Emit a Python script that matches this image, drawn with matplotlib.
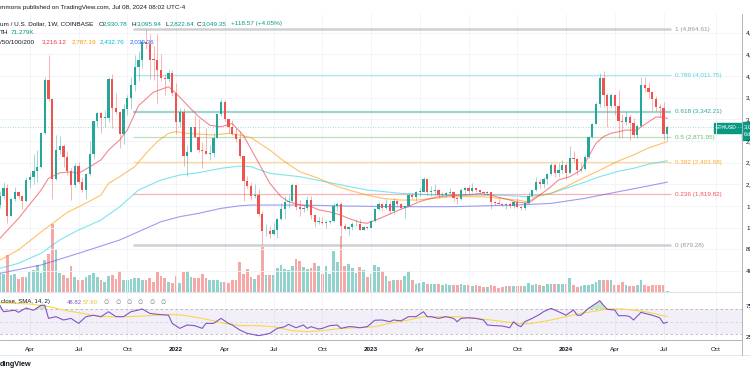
import numpy as np
import pandas as pd
import matplotlib
matplotlib.use("Agg")
import matplotlib.pyplot as plt
from matplotlib.patches import Rectangle

plt.rcParams["font.family"] = ["Liberation Sans", "DejaVu Sans"]

# ---- weekly ETH/USD candles (Coinbase), Mondays 2021-02-08 .. 2024-07-08 ----
first_open = 1610
closes = [
    # 2021
    1780, 1935, 1417, 1723, 1855, 1786, 1691, 2080, 2140, 2240, 2315, 2945,
    3920, 3580, 2100, 2630, 2710, 2510, 2250, 1980, 2330, 2040, 1900, 2190,
    2560, 3160, 3310, 3225, 3230, 3940, 3410, 3330, 2920, 3390, 3590, 3840,
    4170, 4290, 4620, 4580, 4300, 4290, 4110, 3960, 3940, 4050, 3680,
    # 2022
    3150, 3330, 2530, 2600, 3060, 2880, 2630, 2620, 2560, 2580, 2860, 3290,
    3520, 3210, 3060, 2930, 2830, 2520, 2060, 1970, 1790, 1800, 1450, 1130,
    1140, 1075, 1160, 1350, 1550, 1680, 1700, 1980, 1580, 1550, 1570, 1710,
    1440, 1310, 1310, 1290, 1300, 1320, 1590, 1630, 1230, 1170, 1205, 1260,
    1275, 1165, 1220, 1200,
    # 2023
    1320, 1550, 1630, 1570, 1630, 1510, 1700, 1640, 1560, 1590, 1800, 1760,
    1860, 1860, 2090, 1860, 1870, 1900, 1800, 1810, 1830, 1850, 1750, 1720,
    1900, 1940, 1870, 1930, 1890, 1860, 1840, 1850, 1680, 1650, 1640, 1615,
    1640, 1590, 1670, 1580, 1560, 1660, 1780, 1890, 2050, 2010, 2090, 2190,
    2350, 2200, 2270, 2350,
    # 2024
    2210, 2480, 2460, 2260, 2290, 2500, 2880, 3110, 3490, 3960, 3650, 3450,
    3640, 3450, 3160, 3150, 3250, 3130, 2910, 3070, 3830, 3780, 3700, 3570,
    3420, 3410, 2930.78, 3049.35,
]
highs = [
    1875, 2040, 2000, 1740, 1945, 1880, 1810, 2140, 2200, 2550, 2640, 2960,
    3970, 4380, 3600, 2900, 2890, 2740, 2620, 2300, 2400, 2410, 2140, 2200,
    2800, 3170, 3330, 3340, 3370, 3970, 4030, 3680, 3360, 3480, 3640, 3970,
    4380, 4460, 4670, 4870, 4770, 4560, 4780, 4400, 4040, 4120, 4100,
    3860, 3410, 3410, 2730, 3060, 3280, 3200, 2780, 3040, 2730, 2950, 3300,
    3580, 3550, 3210, 3180, 3030, 2990, 2520, 2160, 2050, 2000, 1920, 1500,
    1260, 1230, 1280, 1380, 1660, 1780, 1800, 2020, 1990, 1710, 1620, 1790,
    1790, 1460, 1390, 1390, 1340, 1340, 1660, 1680, 1680, 1290, 1230, 1300,
    1350, 1350, 1230, 1230,
    1340, 1560, 1670, 1660, 1720, 1690, 1740, 1710, 1660, 1600, 1840, 1840,
    1870, 1940, 2140, 2100, 1960, 2000, 1920, 1850, 1860, 1930, 1880, 1770,
    1930, 1950, 1980, 2030, 1930, 1890, 1870, 1870, 1860, 1690, 1740, 1660,
    1660, 1680, 1690, 1750, 1600, 1690, 1860, 1900, 2140, 2100, 2130, 2200,
    2400, 2400, 2400, 2440,
    2400, 2715, 2610, 2480, 2390, 2540, 2890, 3130, 3520, 4060, 4090, 3680,
    3680, 3660, 3730, 3290, 3350, 3290, 3220, 3120, 3980, 3980, 3890, 3720,
    3620, 3490, 3520, 3095.94,
]
lows = [
    1560, 1730, 1290, 1410, 1700, 1720, 1550, 1680, 1930, 2000, 2050, 2300,
    2930, 3530, 1730, 2080, 2560, 2310, 2170, 1710, 1950, 2020, 1860, 1720,
    2150, 2460, 3050, 2950, 3050, 3150, 3040, 3290, 2660, 2740, 3280, 3390,
    3720, 3900, 4140, 4500, 3950, 3920, 3500, 3900, 3640, 3880, 3620,
    2930, 3060, 2330, 2160, 2590, 2850, 2600, 2300, 2550, 2450, 2500, 2850,
    3260, 3160, 2950, 2900, 2780, 2490, 1700, 1940, 1710, 1750, 1420, 880,
    1050, 1000, 1070, 1010, 1340, 1360, 1560, 1670, 1530, 1420, 1480, 1520,
    1350, 1220, 1270, 1260, 1190, 1270, 1310, 1510, 1070, 1150, 1070, 1160,
    1230, 1150, 1160, 1180,
    1190, 1310, 1520, 1500, 1540, 1460, 1460, 1580, 1540, 1370, 1590, 1720,
    1700, 1790, 1850, 1810, 1790, 1800, 1740, 1780, 1770, 1820, 1700, 1630,
    1710, 1800, 1820, 1850, 1850, 1840, 1820, 1820, 1550, 1610, 1630, 1600,
    1550, 1570, 1560, 1570, 1520, 1530, 1650, 1760, 1870, 1930, 1930, 2010,
    2170, 2140, 2130, 2210,
    2100, 2200, 2420, 2170, 2230, 2260, 2480, 2860, 3110, 3420, 3420, 3060,
    3400, 3280, 2850, 2860, 3100, 2810, 2870, 2860, 3050, 3700, 3600, 3360,
    3350, 3240, 2810, 2822.64,
]
volume_k = [
    1235, 1170, 2405, 1105, 1170, 845, 975, 975, 1300, 1430, 1755, 1235, 2080, 2470,
    4420, 2730, 1235, 1105, 910, 1690, 975, 780, 780, 975, 1105, 1235, 975, 780,
    650, 1040, 1105, 845, 1365, 780, 780, 845, 910, 910, 780, 780, 910, 650, 1300,
    1040, 910, 650, 585, 1040, 585, 1300, 1365, 975, 910, 910, 1170, 910, 780, 780,
    780, 650, 650, 585, 780, 780, 1950, 1170, 1495,
    975, 845, 1105, 2925, 1105, 1105, 1105, 1560, 1755, 1495, 1430, 1690, 2145,
    2015, 1625, 1495, 1560, 1885, 1690, 1170, 1690, 1170, 2665, 1950, 3640, 1690,
    1820, 1560, 1235, 1625, 1430, 975, 1170, 1755, 1625, 1365, 1040, 715, 780, 780,
    780, 1040, 1365, 780, 520, 585, 650, 520, 520, 520, 520, 455, 520, 455, 455,
    455, 520, 455, 455, 390, 455, 390, 325, 325, 455, 390,
    260, 325, 390, 390, 390, 390, 390, 390, 585, 455, 520, 455, 390, 520, 520, 520,
    520, 520,
    520, 910, 455, 325, 390, 455, 455, 520, 650, 780, 780, 780, 780, 455, 455, 650,
    455, 390, 390, 455, 780, 455, 390, 455, 455, 455, 455, 71.279,
]

# moving averages: (week offset from 2024-01-01, value)
ma20_pts = [(-151, 1000), (-146, 1370), (-140, 1890), (-138, 2110), (-135, 2210),
            (-132, 2230), (-130, 2200), (-127, 2320), (-124, 2450), (-122, 2630),
            (-119, 2820), (-117, 3000), (-114, 3450), (-110, 3700), (-106, 3800),
            (-104, 3680), (-101, 3460), (-98, 3250), (-95, 3090), (-92, 3060),
            (-89, 3120), (-86, 2900), (-84, 2650), (-82, 2400), (-79, 2020),
            (-76, 1770), (-74, 1680), (-71, 1620), (-68, 1590), (-66, 1530),
            (-63, 1490), (-60, 1430), (-58, 1370), (-55, 1300), (-53, 1280),
            (-50, 1360), (-47, 1450), (-44, 1540), (-42, 1590), (-39, 1680),
            (-36, 1740), (-34, 1770), (-31, 1790), (-28, 1800), (-26, 1805),
            (-23, 1830), (-20, 1800), (-18, 1760), (-15, 1710), (-13, 1670),
            (-10, 1650), (-7, 1800), (-4, 1955), (-2, 2080), (1, 2140), (4, 2260),
            (6, 2510), (8, 2755), (10, 2880), (12, 2940), (14, 2970), (16, 3000),
            (19, 3000), (20, 3060), (22, 3150), (24, 3240), (26, 3235), (27, 3216)]
ma50_pts = [(-151, 600), (-146, 790), (-140, 1120), (-133, 1480), (-129, 1617),
            (-124, 1800), (-122, 2016), (-119, 2140), (-115, 2324), (-112, 2570),
            (-109, 2786), (-106, 2940), (-104, 2970), (-101, 2940), (-98, 2927),
            (-94, 2909), (-90, 2940), (-87, 2909), (-84, 2860), (-79, 2632),
            (-75, 2416), (-71, 2232), (-66, 2110), (-62, 1986), (-58, 1894),
            (-53, 1801), (-49, 1740), (-44, 1709), (-40, 1709), (-35, 1740),
            (-31, 1770), (-22, 1770), (-13, 1709), (-10, 1678), (-8, 1770),
            (-4, 1832), (0, 1955), (5, 2130), (9, 2260), (14, 2430), (18, 2540),
            (22, 2670), (27, 2787)]
ma100_pts = [(-151, 450), (-146, 542), (-140, 726), (-135, 972), (-130, 1156),
             (-124, 1340), (-119, 1586), (-114, 1894), (-108, 2078), (-103, 2170),
             (-98, 2213), (-92, 2294), (-87, 2336), (-84, 2324), (-79, 2202),
             (-71, 2140), (-62, 2016), (-53, 1894), (-44, 1832), (-35, 1801),
             (-31, 1801), (-18, 1801), (-10, 1770), (-4, 1832), (0, 1925),
             (5, 2040), (9, 2140), (14, 2240), (18, 2294), (22, 2370), (27, 2433)]
ma200_pts = [(-151, 357), (-140, 510), (-130, 726), (-119, 972), (-108, 1309),
             (-103, 1402), (-98, 1463), (-92, 1555), (-87, 1603), (-84, 1617),
             (-71, 1617), (-58, 1598), (-44, 1586), (-31, 1586), (-13, 1617),
             (-4, 1647), (5, 1740), (14, 1863), (20, 1943), (27, 2039)]

rsi_pts = [(-151, 76), (-150, 65.7), (-147, 68), (-146, 64.7), (-144, 71.6),
           (-142, 68), (-140, 76), (-139, 76), (-138, 55), (-136, 57.7),
           (-134, 52.4), (-132, 55), (-130, 47), (-128, 57.7), (-126, 60),
           (-124, 57.7), (-122, 65.7), (-120, 57.7), (-118, 57.7), (-116, 65.7),
           (-114, 68.4), (-113, 70), (-111, 63), (-109, 61.5), (-106, 60),
           (-105, 47), (-103, 39), (-101, 44.4), (-99, 43.4), (-97, 39),
           (-96, 47), (-94, 47), (-92, 55), (-90, 47), (-89, 44.4), (-87, 36.4),
           (-85, 31), (-82, 27.4), (-81, 28.4), (-79, 31), (-77, 39), (-75, 41.7),
           (-74, 45.5), (-72, 40), (-70, 44.4), (-69, 39), (-68, 41.7), (-66, 38),
           (-65, 39), (-63, 43.4), (-61, 44.4), (-60, 39), (-58, 41.7), (-57, 41.7),
           (-55, 40), (-53, 41.7), (-51, 52), (-49, 52.4), (-47, 49.7), (-46, 52.4),
           (-44, 51), (-42, 57.7), (-40, 57.7), (-38, 65.7), (-37, 57.7),
           (-36, 57.7), (-34, 55), (-32, 57.7), (-30, 55), (-29, 49.7), (-28, 55),
           (-26, 55.9), (-24, 55), (-22, 52.4), (-21, 44.4), (-19, 43.4),
           (-17, 42.8), (-15, 40), (-14, 49.7), (-13, 44.4), (-12, 41.7),
           (-11, 49.7), (-9, 55), (-7, 61.5), (-6, 65.7), (-4, 71), (-2, 65.7),
           (-1, 63), (0, 60), (2, 68.4), (3, 60), (4, 60), (6, 71), (8, 79),
           (9, 83.3), (10, 76), (11, 69.5), (13, 68.4), (14, 59.3), (16, 59.3),
           (17, 57.7), (18, 52.4), (20, 64.7), (21, 63), (23, 60), (25, 56),
           (26, 47), (27, 48.82)]
rsi_sma_pts = [(-151, 80), (-143, 78), (-138, 74), (-134, 68.4), (-129, 63),
               (-124, 57.7), (-117, 57.7), (-111, 59.3), (-106, 61.5), (-102, 60),
               (-97, 55), (-91, 47), (-87, 43.4), (-82, 43.4), (-78, 41.7),
               (-73, 35.3), (-69, 33.7), (-65, 35.3), (-60, 39), (-56, 40),
               (-51, 41.7), (-47, 47), (-42, 52.4), (-38, 57.7), (-33, 57.7),
               (-29, 57.7), (-24, 55), (-20, 52.4), (-15, 48.6), (-12, 46),
               (-9, 47), (-4, 52.4), (0, 57.7), (4, 63), (8, 66.8), (11, 70),
               (15, 70), (18, 68.4), (22, 64.7), (27, 57.8)]

fib_ratios = ["1", "0.786", "0.618", "0.5", "0.382", "0.236", "0"]
fib_prices = [4864.61, 4011.75, 3342.21, 2871.95, 2401.68, 1819.82, 879.28]
fib_colors = ["#9598a1", "#4dd0e1", "#26a69a", "#66bb6a", "#ffa726", "#f7525f", "#9598a1"]

UP, DOWN = "#26a69a", "#ef5350"
W, H = 750, 375
ref = pd.Timestamp("2024-01-01")


def box(x0, y0, x1, y1):
    return [x0 / W, 1 - y1 / H, (x1 - x0) / W, (y1 - y0) / H]


def ftext(x, y, s, **kw):
    kw.setdefault("fontsize", 4.6)
    kw.setdefault("color", "#131722")
    fig.text(x / W, 1 - y / H, s, va="center", ha="left", **kw)


dates = pd.date_range("2021-02-08", periods=len(closes), freq="W-MON")
wk = ((dates - ref).days / 7).to_numpy()
c = np.array(closes, float)
o = np.concatenate([[first_open], c[:-1]])
hi = np.array(highs, float)
lo = np.array(lows, float)
up = c >= o

fig = plt.figure(figsize=(7.5, 3.75), dpi=100)
fig.patch.set_facecolor("white")

xlo, xhi = -566 / 3.75, 176 / 3.75
ylo, yhi = 12.3, 5141.4

ax = fig.add_axes(box(0, 14, 742, 292))
axv = ax.twinx()
ax.set_zorder(axv.get_zorder() + 1)
ax.patch.set_visible(False)

# volume
axv.bar(wk, volume_k, width=0.72, color=np.where(up, UP, DOWN), alpha=0.5, linewidth=0)
axv.set_ylim(0, 278 * 65)
axv.set_yticks([])
for s in axv.spines.values():
    s.set_visible(False)

# grid
ax.set_xlim(xlo, xhi)
ax.set_ylim(ylo, yhi)
price_ticks = np.arange(400, 5000, 400)
for p in price_ticks:
    ax.axhline(p, color="#f0f3fa", lw=0.6, zorder=0)

tick_pos, tick_lab = [], []
for y in range(2021, 2025):
    for m in (1, 4, 7, 10):
        d = pd.Timestamp(y, m, 1)
        d += pd.Timedelta(days=(7 - d.weekday()) % 7)
        pos = (d - ref).days / 7
        if xlo < pos < xhi:
            tick_pos.append(pos)
            tick_lab.append(str(y) if m == 1 else d.strftime("%b"))
for t in tick_pos:
    ax.axvline(t, color="#f0f3fa", lw=0.6, zorder=0)

# fib retracement
for r, p, col in zip(fib_ratios, fib_prices, fib_colors):
    lw = 1.8 if r in ("1", "0") else (1.6 if r == "0.618" else 0.9)
    ax.hlines(p, -115.5, 28, color=col, lw=lw, alpha=0.45, zorder=1)
    ax.text(29, p, f"{r} ({p:,.2f})", color=col, fontsize=4.6, va="center", ha="left")

# moving averages
for pts, col in [(ma200_pts, "#5b5be8"), (ma100_pts, "#26d4e6"),
                 (ma50_pts, "#ff9800"), (ma20_pts, "#f23645")]:
    a = np.array(pts, float)
    ax.plot(a[:, 0], a[:, 1], color=col, lw=0.8, alpha=0.6, zorder=2)

# candles
ax.vlines(wk, lo, hi, colors=np.where(up, UP, DOWN), lw=0.5, alpha=0.6, zorder=3)
body = np.maximum(np.abs(c - o), 12)
ax.bar(wk, body, bottom=np.minimum(o, c), width=0.62, color=np.where(up, UP, DOWN),
       linewidth=0, zorder=4)

# last price line
ax.axhline(c[-1], color="#8ccfc6", lw=0.6, ls=(0, (1, 2)), zorder=1)

ax.yaxis.tick_right()
ax.set_yticks(price_ticks)
ax.set_yticklabels([f"{p:,}" for p in price_ticks], fontsize=4.6, color="#131722")
ax.tick_params(axis="y", length=0, pad=3)
ax.set_xticks([])
for s in ax.spines.values():
    s.set_visible(False)

# RSI pane
axr = fig.add_axes(box(0, 292, 742, 340))
axr.set_xlim(xlo, xhi)
axr.set_ylim(20.4, 97.2)
axr.axhspan(30, 70, color="#7e57c2", alpha=0.09, lw=0)
for lvl, a in ((70, 0.7), (50, 0.35), (30, 0.7)):
    axr.axhline(lvl, color="#9598a1", lw=0.6, ls=(0, (3, 3)), alpha=a)
for t in tick_pos:
    axr.axvline(t, color="#f0f3fa", lw=0.6, zorder=0)
r = np.array(rsi_pts, float)
rs = np.array(rsi_sma_pts, float)
axr.fill_between(r[:, 0], r[:, 1], 70, where=r[:, 1] > 70, interpolate=True,
                 color="#4caf50", alpha=0.3, lw=0)
axr.plot(rs[:, 0], rs[:, 1], color="#f5d94a", lw=0.8)
axr.plot(r[:, 0], r[:, 1], color="#7e57c2", lw=0.8)
axr.yaxis.tick_right()
axr.set_yticks([75, 25])
axr.set_yticklabels(["75.00", "25.00"], fontsize=4.6, color="#131722")
axr.tick_params(axis="y", length=0, pad=3)
axr.set_xticks(tick_pos)
axr.set_xticklabels(tick_lab, fontsize=4.6, color="#131722")
for lab, txt in zip(axr.get_xticklabels(), tick_lab):
    if txt.isdigit():
        lab.set_fontweight("bold")
axr.tick_params(axis="x", length=0, pad=5)
for s in axr.spines.values():
    s.set_visible(False)

# pane borders
fig.add_artist(plt.Line2D([0, 742 / W], [1 - 292 / H] * 2, color="#e0e3eb", lw=0.8))
fig.add_artist(plt.Line2D([0, 742 / W], [1 - 340 / H] * 2, color="#b2b5be", lw=0.7))
fig.add_artist(plt.Line2D([0, 1], [1 - 355 / H] * 2, color="#e0e3eb", lw=0.6))
fig.add_artist(plt.Line2D([742 / W] * 2, [1 - 355 / H, 1 - 14 / H], color="#b2b5be", lw=0.7))

# header / legend text
ftext(0, 7, "mmons published on TradingView.com, Jul 08, 2024 08:02 UTC-4")
ftext(0, 24, "um / U.S. Dollar, 1W, COINBASE")
g = "#089981"
for x, s, col in [(99, "O", "#131722"), (103, "2,930.78", g), (132, "H", "#131722"),
                  (137, "3,095.94", g), (166, "L", "#131722"), (170, "2,822.64", g),
                  (197, "C", "#131722"), (202, "3,049.35", g),
                  (231, "+118.57 (+4.05%)", g)]:
    ftext(x, 24, s, color=col)
ftext(0, 32.5, "TH", color="#131722")
ftext(11, 32.5, "71.279K", color=g)
ftext(0, 42, "/50/100/200")
for x, s, col in [(42, "3,216.12", "#f23645"), (72, "2,787.19", "#ff9800"),
                  (100, "2,432.76", "#00bcd4"), (130, "2,039.36", "#2962ff")]:
    ftext(x, 42, s, color=col)
ftext(1, 302, "close, SMA, 14, 2)", color="#131722", fontsize=4.3)
ftext(67, 302, "48.82", color="#7e57c2", fontsize=4.3)
ftext(83, 302, "57.80", color="#e6c229", fontsize=4.3)
for k in range(6):
    ftext(104 + k * 11.3, 302, "\u2205", color="#787b86", fontsize=4.3)
ftext(0, 365, "dingView", fontsize=5.2, fontweight="bold", color="#131722")

# last price tags
fig.add_artist(Rectangle((714 / W, 1 - 133 / H), 27 / W, 10 / H, color=g,
                         transform=fig.transFigure))
ftext(715.5, 128, "ETHUSD", color="white", fontsize=3.7)
fig.add_artist(Rectangle((742 / W, 1 - 140 / H), 10 / W, 18 / H, color=g,
                         transform=fig.transFigure))
ftext(744, 127, "3,049.35", color="white", fontsize=4.2)
ftext(744, 135, "6d 15h", color="white", fontsize=4.0)

fig.savefig("out.png", dpi=100, facecolor="white")
